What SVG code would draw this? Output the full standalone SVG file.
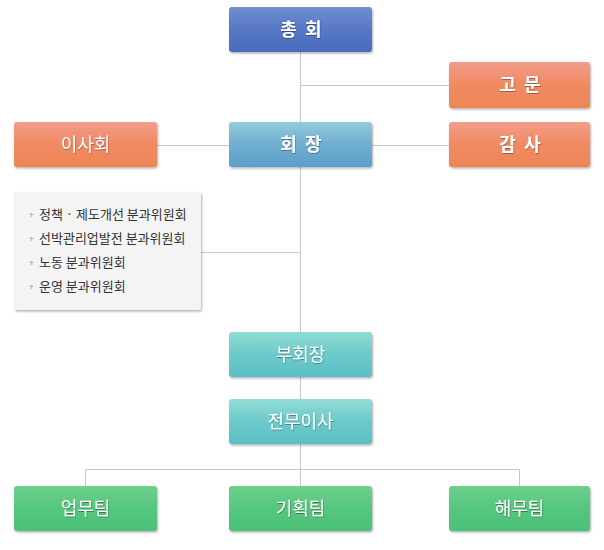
<svg xmlns="http://www.w3.org/2000/svg" width="604" height="550" viewBox="0 0 604 550">
<defs>
<linearGradient id="gBlue" x1="0" y1="0" x2="0" y2="1"><stop offset="0" stop-color="#6f8fd0"/><stop offset="0.5" stop-color="#5677c4"/><stop offset="1" stop-color="#4b6cbd"/></linearGradient>
<linearGradient id="gSky" x1="0" y1="0" x2="0" y2="1"><stop offset="0" stop-color="#94cbdb"/><stop offset="0.5" stop-color="#6faed0"/><stop offset="1" stop-color="#5c9ec9"/></linearGradient>
<linearGradient id="gOrange" x1="0" y1="0" x2="0" y2="1"><stop offset="0" stop-color="#f39c8a"/><stop offset="0.5" stop-color="#f08a62"/><stop offset="1" stop-color="#ee8554"/></linearGradient>
<linearGradient id="gTeal" x1="0" y1="0" x2="0" y2="1"><stop offset="0" stop-color="#92dcd5"/><stop offset="0.5" stop-color="#6ccaca"/><stop offset="1" stop-color="#5bbec6"/></linearGradient>
<linearGradient id="gGreen" x1="0" y1="0" x2="0" y2="1"><stop offset="0" stop-color="#6fd08e"/><stop offset="0.5" stop-color="#55c67d"/><stop offset="1" stop-color="#4bc178"/></linearGradient>
<filter id="sh" x="-10%" y="-10%" width="125%" height="135%"><feDropShadow dx="1" dy="1.5" stdDeviation="1" flood-color="#000" flood-opacity="0.3"/></filter>
<filter id="ts" x="-10%" y="-20%" width="130%" height="150%"><feDropShadow dx="0.5" dy="1" stdDeviation="0.6" flood-color="#000" flood-opacity="0.35"/></filter>
</defs>
<style>
.box{filter:url(#sh);}
.lbl{font-family:"Noto Sans CJK KR","Noto Sans",sans-serif;font-size:18px;fill:#fff;text-anchor:middle;filter:url(#ts);}
.lb2{font-family:"Noto Sans CJK KR","Noto Sans",sans-serif;font-size:18px;fill:#fff;text-anchor:middle;font-weight:bold;filter:url(#ts);}
.item{font-family:"Noto Sans CJK KR","Noto Sans",sans-serif;font-size:13px;fill:#333;}
.dot{font-family:"Noto Sans CJK KR","Noto Sans",sans-serif;font-size:9px;fill:#999;}
.ln{stroke:#c8c8c8;stroke-width:1;fill:none;}
</style>
<g id="connectors">
<path class="ln" d="M300.5 52 V332"/>
<path class="ln" d="M300.5 377 V399"/>
<path class="ln" d="M300.5 444 V486"/>
<path class="ln" d="M300 85.5 H449"/>
<path class="ln" d="M157 145.5 H229"/>
<path class="ln" d="M372 145.5 H449"/>
<path class="ln" d="M201 252.5 H300"/>
<path class="ln" d="M85.5 486 V469.5 H519.5 V486"/>
</g>
<g id="n-general"><rect class="box" x="229" y="7" width="143" height="45" rx="3" fill="url(#gBlue)"/><text class="lb2" x="301" y="36">총&#160;&#160;회</text></g>
<g id="n-advisor"><rect class="box" x="449" y="62" width="141" height="46" rx="3" fill="url(#gOrange)"/><text class="lb2" x="520" y="91">고&#160;&#160;문</text></g>
<g id="n-board"><rect class="box" x="14" y="122" width="143" height="45" rx="3" fill="url(#gOrange)"/><text class="lbl" x="85.5" y="151">이사회</text></g>
<g id="n-chair"><rect class="box" x="229" y="122" width="143" height="45" rx="3" fill="url(#gSky)"/><text class="lb2" x="301" y="151">회&#160;&#160;장</text></g>
<g id="n-audit"><rect class="box" x="449" y="122" width="141" height="45" rx="3" fill="url(#gOrange)"/><text class="lb2" x="520" y="151">감&#160;&#160;사</text></g>
<g id="n-committees">
<rect class="box" x="14" y="192" width="187" height="118" rx="2" fill="#f4f4f4"/>
<text class="dot" x="29" y="218">+</text><text class="item" x="39" y="219">정책 · 제도개선 분과위원회</text>
<text class="dot" x="29" y="242">+</text><text class="item" x="39" y="243">선박관리업발전 분과위원회</text>
<text class="dot" x="29" y="266">+</text><text class="item" x="39" y="267">노동 분과위원회</text>
<text class="dot" x="29" y="290">+</text><text class="item" x="39" y="291">운영 분과위원회</text>
</g>
<g id="n-vice"><rect class="box" x="229" y="332" width="143" height="45" rx="3" fill="url(#gTeal)"/><text class="lbl" x="300.5" y="361">부회장</text></g>
<g id="n-exec"><rect class="box" x="229" y="399" width="143" height="45" rx="3" fill="url(#gTeal)"/><text class="lbl" x="300.5" y="428">전무이사</text></g>
<g id="n-ops"><rect class="box" x="14" y="486" width="143" height="45" rx="3" fill="url(#gGreen)"/><text class="lbl" x="85.5" y="515">업무팀</text></g>
<g id="n-plan"><rect class="box" x="229" y="486" width="143" height="45" rx="3" fill="url(#gGreen)"/><text class="lbl" x="300.5" y="515">기획팀</text></g>
<g id="n-marine"><rect class="box" x="449" y="486" width="141" height="45" rx="3" fill="url(#gGreen)"/><text class="lbl" x="519.5" y="515">해무팀</text></g>
</svg>
